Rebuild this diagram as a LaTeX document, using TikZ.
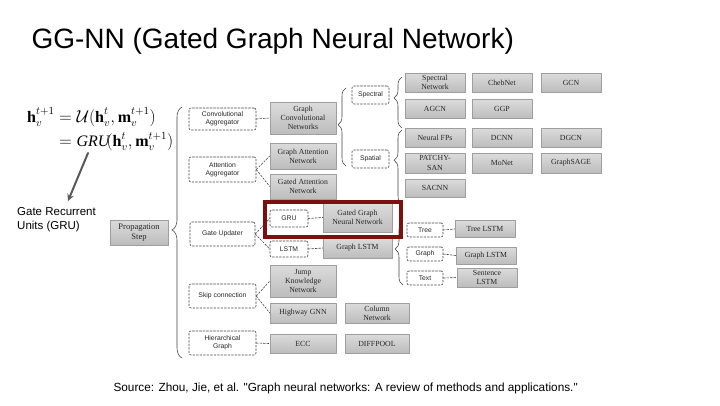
\documentclass[tikz,border=0pt]{standalone}
\usepackage{amsmath}
\usepackage{fontspec}
\setmainfont{Liberation Serif}
\newfontfamily\arialfont{Liberation Sans}
\usetikzlibrary{decorations.pathreplacing}
\definecolor{boxtop}{gray}{0.86}
\definecolor{boxbot}{gray}{0.74}
\definecolor{boxline}{gray}{0.62}
\definecolor{hlred}{RGB}{122,16,16}
\begin{document}
\begin{tikzpicture}[x=1pt, y=-1pt, line join=round, line cap=round, >=stealth,
	gbox/.style={draw=boxline, top color=boxtop, bottom color=boxbot, inner sep=1pt, align=center,
		minimum width=60pt, minimum height=19pt, font=\fontsize{7.8}{9.2}\selectfont, text=black!85},
	dbox/.style={draw=black!75, line width=0.6pt, dash pattern=on 2pt off 1.5pt, rounded corners=2pt, align=center,
		inner sep=1pt, font=\arialfont\fontsize{6.8}{8.2}\selectfont, text=black!85},
	dlink/.style={draw=black!75, dash pattern=on 2pt off 1.5pt, line width=0.6pt},
	brc/.style={decorate, draw=black!75, line width=0.55pt}]
	\useasboundingbox (0,0) rectangle (720,405);
	% texte
	\node[anchor=base west, font=\arialfont\fontsize{28}{32}\selectfont] (title) at (28,48) {GG-NN (Gated Graph Neural Network)};
	\node[anchor=base west, font=\arialfont\fontsize{11.8}{14}\selectfont] (source) at (110,391) {Source: Zhou, Jie, et al. \textquotedbl Graph neural networks: A review of methods and applications.\textquotedbl};
	\node[anchor=west, font=\fontsize{16}{20}\selectfont, inner sep=0pt] (update) at (27,130) {$\begin{aligned}\mathbf{h}_v^{t+1} &= \mathcal{U}(\mathbf{h}_v^{t},\mathbf{m}_v^{t+1})\\ &= \mathit{GRU}\!(\mathbf{h}_v^{t},\mathbf{m}_v^{t+1})\end{aligned}$};
	\node[anchor=north west, align=left, inner sep=0pt, font=\arialfont\fontsize{11.5}{14}\selectfont] (grulbl) at (17,207) {Gate Recurrent\\Units (GRU)};
	\coordinate (grufrom) at (88,153);
	\coordinate (gruto) at (68,201);
	\draw[->, line width=2pt, draw=black!65] (grufrom) -- (gruto);
	% propagation
	\node[gbox, minimum width=58pt, minimum height=25pt, font=\fontsize{8.5}{10}\selectfont] (prop) at (139,232.5) {Propagation\\Step};
	\node[dbox, minimum width=67pt, minimum height=22pt] (convagg) at (222.5,119) {Convolutional\\Aggregator};
	\node[dbox, minimum width=67pt, minimum height=25pt] (attagg) at (222.5,169.5) {Attention\\Aggregator};
	\node[dbox, minimum width=65pt, minimum height=24pt] (gateupd) at (222.5,234) {Gate Updater};
	\node[dbox, minimum width=67pt, minimum height=24pt] (skip) at (222.5,296) {Skip connection};
	\node[dbox, minimum width=67pt, minimum height=24pt] (hier) at (222.5,343) {Hierarchical\\Graph};
	\node[gbox, minimum width=66pt, minimum height=32pt] (gcn) at (303,118) {Graph\\Convolutional\\Networks};
	\node[gbox, minimum width=66pt, minimum height=26pt] (gat) at (303,156) {Graph Attention\\Network};
	\node[gbox, minimum width=66pt, minimum height=25pt] (gaan) at (303,186.5) {Gated Attention\\Network};
	\node[dbox, minimum width=38pt, minimum height=17pt] (gru) at (289,218.5) {GRU};
	\node[dbox, minimum width=38pt, minimum height=16pt] (lstm) at (289,249) {LSTM};
	\node[gbox, minimum width=69pt, minimum height=29pt] (ggnn) at (357.5,217.5) {Gated Graph\\Neural Network};
	\node[gbox, minimum width=69pt, minimum height=20pt] (glstm) at (357.5,248) {Graph LSTM};
	\node[gbox, minimum width=66pt, minimum height=32pt] (jkn) at (303,281) {Jump\\Knowledge\\Network};
	\node[gbox, minimum width=66pt, minimum height=20pt] (hgnn) at (303,313) {Highway GNN};
	\node[gbox, minimum width=66pt, minimum height=19pt] (ecc) at (303,343.5) {ECC};
	\node[gbox, minimum width=64pt, minimum height=20pt] (coln) at (377,313) {Column\\Network};
	\node[gbox, minimum width=64pt, minimum height=19pt] (diffpool) at (377,343.5) {DIFFPOOL};
	% spectral / spatial
	\node[dbox, minimum width=37pt, minimum height=18pt] (spectral) at (370.5,95) {Spectral};
	\node[dbox, minimum width=37pt, minimum height=18pt] (spatial) at (370.5,159) {Spatial};
	\node[gbox] (specnet) at (435,82.5) {Spectral\\Network};
	\node[gbox] (chebnet) at (502,82.5) {ChebNet};
	\node[gbox] (gcnbox) at (571,82.5) {GCN};
	\node[gbox] (agcn) at (435,109) {AGCN};
	\node[gbox] (ggp) at (502,109) {GGP};
	\node[gbox] (nfp) at (435,137.5) {Neural FPs};
	\node[gbox] (dcnn) at (502,137.5) {DCNN};
	\node[gbox] (dgcn) at (571,137.5) {DGCN};
	\node[gbox, minimum height=20pt] (patchy) at (435,163) {PATCHY-\\SAN};
	\node[gbox, minimum height=20pt] (monet) at (502,163) {MoNet};
	\node[gbox, minimum height=20pt] (graphsage) at (571,163) {GraphSAGE};
	\node[gbox, minimum height=18pt] (sacnn) at (435,188) {SACNN};
	% tree / graph / text
	\node[dbox, minimum width=36pt, minimum height=14pt] (tree) at (425,230) {Tree};
	\node[dbox, minimum width=36pt, minimum height=14pt] (graph) at (425,254) {Graph};
	\node[dbox, minimum width=36pt, minimum height=14pt] (text) at (425,278) {Text};
	\node[gbox, minimum height=17pt] (treelstm) at (485,229) {Tree LSTM};
	\node[gbox, minimum height=17pt] (graphlstm) at (486,255.5) {Graph LSTM};
	\node[gbox, minimum height=19pt] (sentlstm) at (487,277.5) {Sentence\\LSTM};
	% liens
	\draw[dlink] (convagg.east) -- (gcn.west);
	\draw[dlink] (attagg.east) -- (gat.west);
	\draw[dlink] (attagg.east) -- (gaan.west);
	\draw[dlink] (gateupd.east) -- (gru.west);
	\draw[dlink] (gateupd.east) -- (lstm.west);
	\draw[dlink] (gru.east) -- (ggnn.west);
	\draw[dlink] (lstm.east) -- (glstm.west);
	\draw[dlink] (skip.east) -- (jkn.west);
	\draw[dlink] (skip.east) -- (hgnn.west);
	\draw[dlink] (hier.east) -- (ecc.west);
	\draw[dlink] (tree.east) -- (treelstm.west);
	\draw[dlink] (graph.east) -- (graphlstm.west);
	\draw[dlink] (text.east) -- (sentlstm.west);
	% accolades
	\draw[brc, decoration={brace, amplitude=10pt, aspect=0.51}] (182,358) -- (182,107);
	\draw[brc, decoration={brace, amplitude=8pt, aspect=0.53}] (346,166) -- (346,88);
	\draw[brc, decoration={brace, amplitude=8pt, aspect=0.59}] (402,128) -- (402,77);
	\draw[brc, decoration={brace, amplitude=8pt, aspect=0.59}] (402,204) -- (402,130);
	\draw[brc, decoration={brace, amplitude=8pt, aspect=0.57}] (403,285) -- (403,222);
	% GGNN en rouge
	\draw[draw=hlred, line width=3.5pt, line join=miter] (265,202) rectangle (401,237);
\end{tikzpicture}
\end{document}
